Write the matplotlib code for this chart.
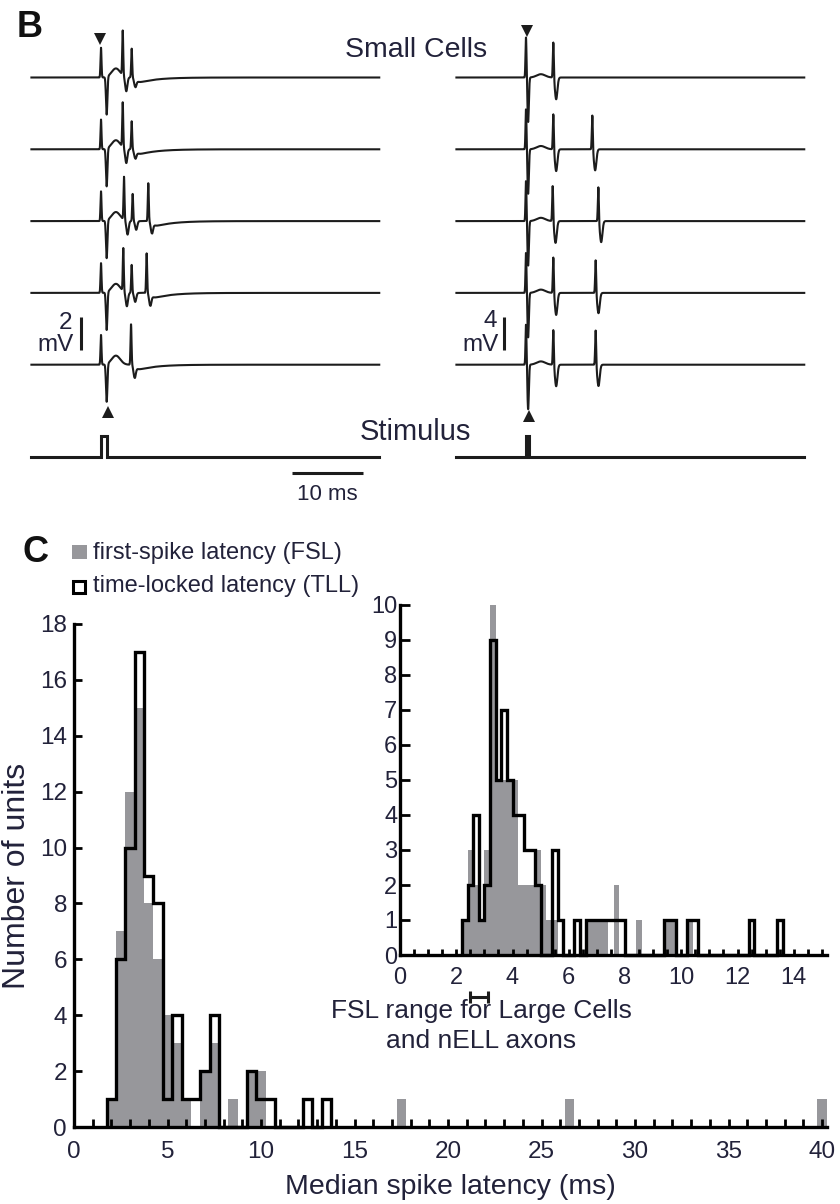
import numpy as np
import matplotlib
matplotlib.use("Agg")
import matplotlib.pyplot as plt
from matplotlib.patches import Rectangle

plt.rcParams['font.family'] = ['Liberation Sans', 'DejaVu Sans']

W, H = 840, 1204
TXT = '#22223a'
GRAY = '#97979b'

# ---------------- panel B data (spike times in ms after stimulus, amplitudes in mV)
left_times = [[3.06, 4.32], [3.06, 4.32], [3.24, 4.46, 6.66], [3.14, 4.32, 6.43], [4.23]]
left_amps = [[2.7, 1.75], [2.7, 1.7], [2.6, 1.65, 2.3], [2.6, 1.7, 2.4], [2.45]]
right_times = [[3.85], [3.85, 9.34], [3.76, 10.19], [3.85, 9.81], [3.85, 9.81]]
right_amps = [[4.4], [4.4, 4.25], [4.4, 4.25], [4.45, 4.1], [4.35, 4.3]]
left_artifact = (1.8, 2.3)     # up, down (mV)
right_artifact = (4.9, 5.4)
left_pulse = (0.0, 0.8)        # stimulus pulse (ms)
right_pulse = (0.0, 0.4)
left_bar_mv = 2
right_bar_mv = 4
time_bar_ms = 10

# ---------------- panel C data: 0.5 ms bins (main), 0.2 ms bins (inset)
fsl_main_left = [1.75, 2.25, 2.75, 3.25, 3.75, 4.25, 4.75, 5.25, 5.75, 6.75, 7.25, 8.25,
                 9.25, 9.75, 17.25, 26.25, 39.75]
fsl_main_count = [1, 7, 12, 15, 8, 6, 4, 3, 1, 2, 3, 1, 2, 2, 1, 1, 1]
tll_main_left = [1.75, 2.25, 2.75, 3.25, 3.75, 4.25, 4.75, 5.25, 5.75, 6.25, 6.75, 7.25,
                 9.25, 9.75, 10.25, 12.25, 13.25]
tll_main_count = [1, 6, 10, 17, 9, 8, 1, 4, 1, 1, 2, 4, 2, 1, 1, 1, 1]

tll_in_left = [2.2, 2.4, 2.6, 2.8, 3.0, 3.2, 3.4, 3.6, 3.8, 4.0, 4.2, 4.4, 4.6, 4.8,
               5.4, 5.6, 6.2, 6.6, 6.8, 7.0, 7.2, 7.4, 7.6, 7.8, 9.4, 9.6, 10.2, 10.4,
               12.4, 13.4]
tll_in_count = [1, 2, 4, 1, 2, 9, 5, 7, 5, 4, 4, 3, 3, 2,
                3, 1, 1, 1, 1, 1, 1, 1, 1, 1, 1, 1, 1, 1,
                1, 1]
fsl_in_left = [2.2, 2.4, 2.6, 2.8, 3.0, 3.2, 3.4, 3.6, 3.8, 4.0, 4.2, 4.4, 4.6, 4.8,
               5.0, 5.2, 5.4, 6.6, 6.8, 7.0, 7.2, 7.6, 8.4, 9.4, 9.6, 10.2]
fsl_in_count = [1, 3, 2, 1, 3, 10, 5, 5, 5, 5, 2, 2, 2, 3,
                2, 1, 1, 1, 1, 1, 1, 2, 1, 1, 1, 1]
fsl_range_large = (2.49, 3.14)


def binned(lefts, counts, start, stop, width):
    edges = np.round(np.arange(start, stop + width / 2, width), 3)
    vals = np.zeros(len(edges) - 1)
    for l, c in zip(lefts, counts):
        vals[int(round((l - start) / width))] = c
    return edges, vals


def waveform(t, times, amps, art, art_lag, hump, dip_frac, dip_lag, dip_w, under):
    y = art[0] * np.exp(-0.5 * (t / 0.07) ** 2)
    y -= art[1] * np.exp(-0.5 * ((t - art_lag) / 0.1) ** 2)
    y += hump * np.exp(-0.5 * ((t - 2.1) / 0.6) ** 2)
    for ts, a in zip(times, amps):
        y += a * np.exp(-0.5 * ((t - ts) / 0.07) ** 2)
        y -= dip_frac * a * np.exp(-0.5 * ((t - ts - dip_lag) / dip_w) ** 2)
    if under:
        s = np.clip(t - (max(times) + 0.5), 0, None)
        y -= under * (1 - np.exp(-s / 0.3)) * np.exp(-s / 2.5)
    return y


fig = plt.figure(figsize=(W / 100, H / 100), dpi=100)


def axes_px(x0, y0, x1, y1):
    return fig.add_axes([x0 / W, 1 - y1 / H, (x1 - x0) / W, (y1 - y0) / H])


def ftext(x, y, s, **kw):
    kw.setdefault('color', TXT)
    fig.text(x / W, 1 - y / H, s, **kw)


# ---------------- panel B
PX_MS = 7.1
t = np.arange(-9.8, 39.2, 0.01)
cols = [
    dict(x0=0, stim_px=101, px_mv=16.5, times=left_times, amps=left_amps, art=left_artifact,
         art_lag=0.8, hump=0.55, dip=(0.32, 0.5, 0.15), under=0.4, pulse=left_pulse,
         bar=left_bar_mv, bar_t=-2.8, down=(-0.14, 2.35), up=(1.03, -20.3)),
    dict(x0=420, stim_px=526, px_mv=8.25, times=right_times, amps=right_amps, art=right_artifact,
         art_lag=0.3, hump=0.4, dip=(0.6, 0.4, 0.17), under=0.0, pulse=right_pulse,
         bar=right_bar_mv, bar_t=-3.1, down=(0.1, 5.6), up=(0.46, -41.0)),
]
for c in cols:
    ax = axes_px(c['x0'], 0, c['x0'] + 420, 425)
    xl = ((c['x0'] - c['stim_px']) / PX_MS, (c['x0'] + 420 - c['stim_px']) / PX_MS)
    ax.set_xlim(*xl)
    ax.set_ylim((77.5 - 425) / c['px_mv'], 77.5 / c['px_mv'])
    ax.axis('off')
    gap = 71.8 / c['px_mv']
    for k in range(5):
        y = waveform(t, c['times'][k], c['amps'][k], c['art'], c['art_lag'], c['hump'],
                     *c['dip'], c['under'])
        ax.plot(t, y - k * gap, color='#1c1c1c', lw=1.5)
    ax.plot([c['down'][0]], [c['down'][1]], marker='v', ms=8, color='#1c1c1c', mew=0)
    ax.plot([c['up'][0]], [c['up'][1]], marker='^', ms=8, color='#1c1c1c', mew=0)
    # voltage scale bar
    ytop = (77.5 - 316.7) / c['px_mv']
    ax.plot([c['bar_t'], c['bar_t']], [ytop - c['bar'], ytop], color='#1c1c1c', lw=2.2,
            solid_capstyle='butt')

    sx = axes_px(c['x0'], 425, c['x0'] + 420, 505)
    sx.set_xlim(*xl)
    sx.set_ylim(-(505 - 457.3) / 21.3, (457.3 - 425) / 21.3)
    sx.axis('off')
    p0, p1 = c['pulse']
    sx.plot([-9.8, p0, p0, p1, p1, 39.2], [0, 0, 1, 1, 0, 0], color='#1c1c1c', lw=2.2,
            solid_joinstyle='miter')
    if c['x0'] == 0:
        tb0 = (292.3 - c['stim_px']) / PX_MS
        sx.plot([tb0, tb0 + time_bar_ms], [-0.76, -0.76], color='#1c1c1c', lw=2.2,
                solid_capstyle='butt', clip_on=False)

ftext(17, 36.7, 'B', fontsize=26, fontweight='bold', color='#111111', va='baseline')
ftext(416, 50, 'Small Cells', fontsize=20.5, ha='center', va='center')
ftext(415, 432, 'Stimulus', fontsize=21, ha='center', va='center')
ftext(72, 323, f'{left_bar_mv}', fontsize=17.5, ha='right', va='center')
ftext(74, 345, 'mV', fontsize=17.5, ha='right', va='center')
ftext(497, 321, f'{right_bar_mv}', fontsize=17.5, ha='right', va='center')
ftext(499, 345, 'mV', fontsize=17.5, ha='right', va='center')
ftext(327, 494, f'{time_bar_ms} ms', fontsize=16, ha='center', va='center')

# ---------------- panel C main histogram
ax = axes_px(74, 624, 826.7, 1127)
e, v = binned(fsl_main_left, fsl_main_count, 1.75, 40.25, 0.5)
ax.stairs(v, e, fill=True, color=GRAY, lw=0, clip_on=False)
e, v = binned(tll_main_left, tll_main_count, 1.75, 13.75, 0.5)
ax.stairs(v, e, baseline=0, color='black', lw=2.4, clip_on=False)
ax.set_xlim(0, 40.25)
ax.set_ylim(0, 18)
for s in ['top', 'right']:
    ax.spines[s].set_visible(False)
for s in ['left', 'bottom']:
    ax.spines[s].set_linewidth(2.4)
ax.set_xticks(range(0, 41, 5))
ax.set_xticks(range(0, 41, 1), minor=True)
ax.set_yticks(range(0, 19, 2))
ax.tick_params(which='both', direction='in', length=6, width=2, labelsize=17.5,
               labelcolor=TXT)
ax.tick_params(axis='x', which='both', pad=10)
ax.tick_params(axis='y', pad=5)
ax.set_xlabel('Median spike latency (ms)', fontsize=20.5, color=TXT, labelpad=8)
ax.set_ylabel('Number of units', fontsize=23, color=TXT, labelpad=6)

# inset
ai = axes_px(400, 605, 826.7, 955)
ai.patch.set_alpha(0)
e, v = binned(fsl_in_left, fsl_in_count, 2.2, 13.6, 0.2)
ai.stairs(v, e, fill=True, color=GRAY, lw=0, clip_on=False)
e, v = binned(tll_in_left, tll_in_count, 2.2, 13.6, 0.2)
ai.stairs(v, e, baseline=0, color='black', lw=2.4, clip_on=False)
ai.set_xlim(0, 15.17)
ai.set_ylim(0, 10)
for s in ['top', 'right']:
    ai.spines[s].set_visible(False)
for s in ['left', 'bottom']:
    ai.spines[s].set_linewidth(2.4)
ai.set_xticks(range(0, 15, 2))
ai.set_xticks(np.arange(0, 15.1, 0.5), minor=True)
ai.set_yticks(range(0, 11))
ai.tick_params(which='both', direction='in', width=2, labelsize=17, labelcolor=TXT)
ai.tick_params(axis='x', which='both', length=4, pad=9)
ai.tick_params(axis='y', length=7.5, pad=2)
ai.errorbar([np.mean(fsl_range_large)], [-1.21],
            xerr=[(fsl_range_large[1] - fsl_range_large[0]) / 2], color='#1c1c1c',
            lw=2.2, capsize=4, capthick=2.2, clip_on=False, fmt='none')

ftext(481, 1011, 'FSL range for Large Cells', fontsize=19, ha='center', va='center')
ftext(481, 1041, 'and nELL axons', fontsize=19, ha='center', va='center')

# legend
fig.patches.append(Rectangle((71.7 / W, 1 - 559.3 / H), 15 / W, 14.3 / H,
                             transform=fig.transFigure, facecolor=GRAY, edgecolor='none'))
fig.patches.append(Rectangle((73.2 / W, 1 - 592.6 / H), 12 / W, 12 / H,
                             transform=fig.transFigure, facecolor='white',
                             edgecolor='black', lw=2.2))
ftext(93, 553, 'first-spike latency (FSL)', fontsize=17, va='center')
ftext(93, 586, 'time-locked latency (TLL)', fontsize=17, va='center')
ftext(22, 562, 'C', fontsize=26, fontweight='bold', color='#111111', va='baseline')

fig.savefig('out.png', dpi=100)
